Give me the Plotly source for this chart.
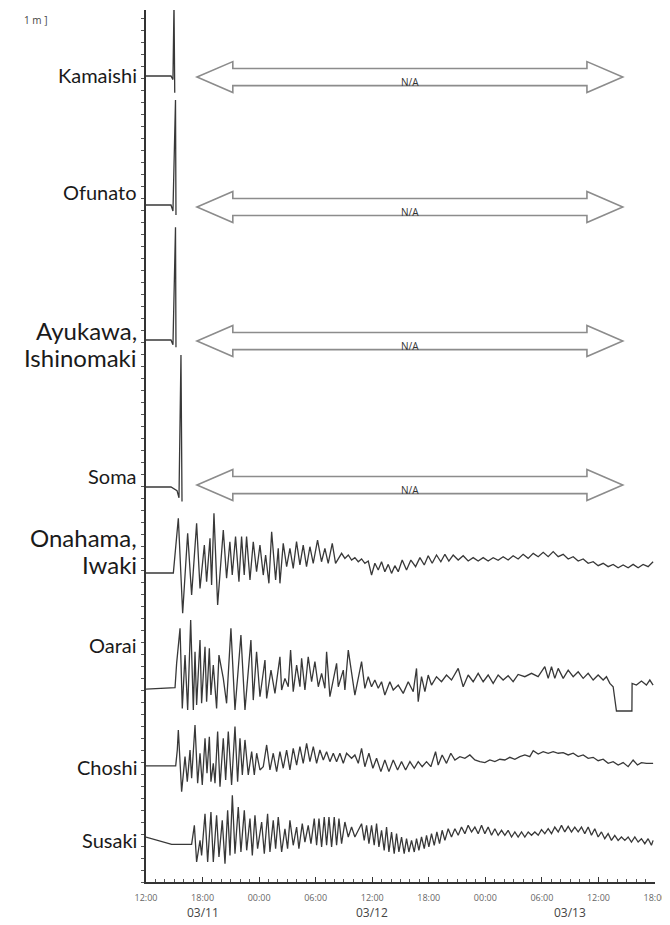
import plotly.graph_objects as go

# ---------------- data ----------------
# time in hours after 2011-03-11 12:00, sea level anomaly in metres
STATIONS = ["Kamaishi", "Ofunato", "Ayukawa, Ishinomaki", "Soma",
            "Onahama, Iwaki", "Oarai", "Choshi", "Susaki"]
OFFSET_M = [67.17, 56.42, 45.17, 32.92, 25.75, 16.08, 9.67, 3.75]
# station label lines: text, height (m), font size
LABEL_LINES = ["Kamaishi", "Ofunato", "Ayukawa,", "Ishinomaki", "Soma",
               "Onahama,", "Iwaki", "Oarai", "Choshi", "Susaki"]
LABEL_Y_M = [67.25, 57.5, 45.92, 43.75, 33.83, 28.67, 26.5, 19.75, 9.58, 3.5]
LABEL_SIZE = [20, 20, 24, 24, 20, 24, 24, 20, 20, 20]

KAMAISHI = [(0, 0), (2.65, 0), (2.86, -0.3), (2.97, 6.0), (3.05, -1.4)]
OFUNATO = [(0, 0), (2.65, 0), (2.86, -0.5), (3.13, 8.75), (3.18, -0.83)]
AYUKAWA = [(0, 0), (2.65, 0), (2.86, -0.4), (3.13, 9.4), (3.18, -0.6)]
SOMA = [(0, 0), (2.65, 0), (3.29, -0.3), (3.5, -0.9), (3.71, 11.0), (3.82, -1.2)]

ONAHAMA = [(0, 0), (2.9, 0), (3.43, 4.56), (3.89, -3.36), (4.42, 3.31), (4.84, -1.83),
           (5.37, 4.14), (5.73, -1.28), (6.19, 2.33), (6.43, -0.72), (6.79, 2.89), (6.96, -1.0),
           (7.21, 4.97), (7.6, -2.67), (8.2, 3.58), (8.55, -0.44), (8.9, 2.61), (9.15, -0.17),
           (9.5, 3.03), (9.86, -0.72), (10.14, 3.03), (10.42, -0.17), (10.67, 3.03), (11.03, -0.58),
           (11.38, 2.61), (11.73, 0.11), (12.09, 2.33), (12.44, -0.17), (12.69, 1.5), (13.04, -0.86),
           (13.33, 3.44), (13.75, -0.58), (14.03, 2.06), (14.21, -0.86), (14.56, 2.47), (14.92, 0.53),
           (15.27, 2.06), (15.62, 0.39), (15.97, 2.61), (16.33, 0.67), (16.68, 2.33), (17.03, 0.53),
           (17.39, 2.19), (17.74, 0.81), (18.2, 2.75), (18.62, 0.94), (18.98, 2.06), (19.33, 0.81),
           (19.76, 2.47), (20.11, 0.81), (20.75, 1.64), (21.1, 1.22), (21.46, 1.5), (21.81, 1.08),
           (22.16, 1.28), (22.52, 0.94), (22.87, 1.17), (23.22, 0.81), (23.58, 1.0), (23.93, -0.17),
           (24.28, 0.81), (24.64, 0.25), (24.99, 0.94), (25.34, 0.11), (25.7, 0.72), (26.05, -0.03),
           (26.4, 0.61), (26.76, 0.11), (27.18, 1.08), (27.64, 0.25), (28.1, 1.08), (28.6, 0.53),
           (29.06, 1.28), (29.52, 0.67), (29.94, 1.44), (30.36, 0.81), (30.82, 1.5), (31.28, 0.94),
           (31.71, 1.56), (32.13, 1.0), (32.59, 1.5), (33.12, 1.08), (33.65, 1.44), (34.18, 1.0),
           (34.71, 1.28), (35.24, 1.0), (35.77, 1.28), (36.3, 1.0), (36.83, 1.28), (37.36, 1.06),
           (37.89, 1.36), (38.42, 1.08), (38.95, 1.44), (39.48, 1.17), (40.01, 1.56), (40.54, 1.22),
           (41.08, 1.64), (41.61, 1.36), (42.14, 1.72), (42.67, 1.36), (43.2, 1.78), (43.73, 1.36),
           (44.26, 1.56), (44.79, 1.17), (45.32, 1.36), (45.85, 1.0), (46.38, 1.17), (46.91, 0.81),
           (47.44, 0.94), (47.97, 0.61), (48.5, 0.81), (49.03, 0.53), (49.56, 0.72), (50.09, 0.44),
           (50.62, 0.67), (51.15, 0.44), (51.68, 0.72), (52.21, 0.44), (52.74, 0.72), (53.27, 0.53),
           (53.8, 0.94)]

OARAI = [(0, 0), (3.08, 0.11), (3.25, 2.14), (3.61, 5.06), (3.85, -1.61), (4.14, 2.83), (4.42, -1.75),
         (4.74, 5.75), (5.02, -1.75), (5.2, 3.11), (5.37, -1.33), (5.73, 4.08), (5.9, -1.19),
         (6.26, 3.53), (6.43, -1.06), (6.72, 3.39), (6.89, -0.5), (7.14, 2.0), (7.49, -1.61),
         (7.74, 2.83), (8.2, 0.89), (8.55, -1.19), (9.01, 5.06), (9.44, -1.75), (10.07, 4.5),
         (10.5, -1.75), (11.13, 4.08), (11.38, -0.92), (11.73, 3.11), (12.09, -0.64), (12.62, 2.42),
         (12.8, -0.78), (13.26, 1.58), (13.68, -0.36), (14.21, 2.69), (14.39, -0.08), (14.74, 0.89),
         (15.09, 0.19), (15.34, 3.25), (15.62, -0.22), (15.98, 2.0), (16.33, 0.19), (16.51, 2.56),
         (16.86, -0.08), (17.21, 2.69), (17.57, 0.61), (17.92, 2.28), (18.28, 0.19), (18.63, 1.31),
         (18.98, 0.06), (19.16, 3.11), (19.51, -0.64), (20.22, 2.14), (20.4, 0.19), (20.93, 1.58),
         (21.1, -0.08), (21.46, 3.25), (22.16, -0.5), (22.87, 2.28), (23.22, 0.06), (23.58, 1.03),
         (23.93, 0.19), (24.28, 0.75), (24.64, 0.06), (24.99, 0.61), (25.34, -0.5), (25.87, 0.61),
         (26.23, -0.08), (26.76, 0.33), (27.29, -0.36), (27.82, 0.61), (28.35, -0.22), (28.7, 1.72),
         (28.88, -1.06), (29.23, 1.03), (29.59, -0.22), (29.94, 1.17), (30.29, 0.33), (30.82, 1.03),
         (31.35, 0.61), (31.88, 1.17), (32.41, 0.75), (33.12, 1.72), (33.65, 0.19), (34.18, 1.17),
         (34.71, 0.61), (35.24, 1.31), (35.77, 0.61), (36.3, 1.17), (36.83, 0.47), (37.36, 1.17),
         (37.89, 0.75), (38.42, 1.11), (38.95, 0.61), (39.48, 1.22), (40.19, 1.03), (40.9, 1.31),
         (41.6, 1.03), (42.31, 1.86), (42.67, 0.89), (43.02, 1.86), (43.37, 0.89), (43.73, 1.72),
         (44.26, 0.89), (44.79, 1.58), (45.32, 1.03), (45.85, 1.44), (46.38, 0.89), (46.91, 1.31),
         (47.44, 0.75), (47.97, 1.17), (48.5, 0.75), (48.85, 1.03), (49.21, 0.47), (49.56, 0.19),
         (49.91, -1.83), (51.55, -1.83), (51.57, 0.47), (52.03, 0.33), (52.56, 0.67), (53.09, 0.33),
         (53.45, 0.75), (53.8, 0.33)]

CHOSHI = [(0, 0), (3.15, 0), (3.32, 1.33), (3.43, 3.0), (3.78, -2.14), (4.14, 0.78), (4.38, -1.31),
          (4.67, 1.33), (4.84, -1.03), (5.2, 3.42), (5.48, -1.44), (5.73, 1.06), (5.97, -1.58),
          (6.26, 2.31), (6.47, -0.61), (6.72, 2.44), (6.89, -1.31), (7.14, 0.22), (7.32, -1.44),
          (7.6, 2.86), (7.85, -1.72), (8.2, 2.31), (8.45, -1.17), (8.73, 2.86), (9.08, -1.58),
          (9.44, 3.28), (9.72, -1.31), (9.97, 2.31), (10.22, -0.75), (10.5, 2.17), (10.85, -0.75),
          (11.21, 1.19), (11.49, -0.75), (11.74, 1.06), (12.09, -0.33), (12.44, -0.06), (12.8, 1.75),
          (13.15, -0.33), (13.5, 1.06), (13.86, -0.47), (14.21, 1.19), (14.56, -0.19), (14.92, 1.33),
          (15.27, -0.33), (15.62, 1.47), (15.98, 0.08), (16.33, 1.61), (16.68, 0.22), (17.04, 1.89),
          (17.39, 0.36), (17.75, 1.61), (18.1, 0.22), (18.45, 1.33), (18.81, 0.5), (19.16, 1.19),
          (19.51, 0.36), (19.87, 1.06), (20.22, 0.36), (20.57, 1.06), (20.93, 0.22), (21.28, 1.06),
          (21.81, 0.64), (22.16, 0.92), (22.52, 0.22), (22.87, 1.47), (23.22, -0.06), (23.65, 1.06),
          (24.07, -0.19), (24.46, 0.64), (24.92, -0.47), (25.34, 0.5), (25.77, -0.47), (26.23, 0.5),
          (26.69, -0.33), (27.11, 0.36), (27.54, -0.33), (28.0, 0.36), (28.46, -0.19), (28.88, 0.36),
          (29.3, -0.06), (29.76, 0.36), (30.22, -0.06), (30.72, 1.19), (31.0, 0.08), (31.42, 0.92),
          (31.88, 0.22), (32.34, 1.06), (32.77, 0.5), (33.3, 0.78), (33.83, 0.64), (34.36, 0.92),
          (34.89, 0.5), (35.42, 0.36), (35.95, 0.28), (36.48, 0.5), (37.01, 0.36), (37.54, 0.56),
          (38.07, 0.5), (38.6, 0.72), (39.13, 0.56), (39.66, 0.78), (40.19, 0.92), (40.72, 0.78),
          (41.08, 1.28), (41.61, 1.0), (42.14, 1.19), (42.67, 1.06), (43.2, 1.19), (43.73, 1.06),
          (44.26, 1.11), (44.79, 0.92), (45.32, 1.06), (45.85, 0.78), (46.38, 0.92), (46.91, 0.64),
          (47.44, 0.72), (47.97, 0.44), (48.5, 0.56), (49.03, 0.22), (49.56, 0.36), (50.09, 0.08),
          (50.62, 0.28), (51.15, -0.06), (51.68, 0.5), (52.14, 0.08), (52.56, 0.28), (53.09, 0.22),
          (53.8, 0.22)]

SUSAKI = [(0, 0), (0.95, -0.22), (2.01, -0.47), (2.72, -0.61), (4.84, -0.61), (5.13, 0.97),
          (5.37, -2.08), (5.73, -0.28), (5.9, -1.53), (6.26, 1.94), (6.54, -2.08), (6.89, 2.08),
          (7.14, -2.08), (7.49, 1.81), (7.74, -1.67), (8.09, 1.39), (8.38, -2.22), (8.66, 2.22),
          (8.91, -1.53), (9.16, 3.47), (9.44, -1.39), (9.79, 2.5), (10.07, -1.25), (10.43, 2.22),
          (10.68, -1.11), (11.03, 1.53), (11.28, -1.53), (11.56, 1.81), (11.84, -0.97), (12.27, 1.25),
          (12.55, -1.39), (12.9, 1.94), (13.15, -1.25), (13.5, 1.39), (13.75, -0.97), (14.03, 1.67),
          (14.39, -1.25), (14.74, 0.69), (15.02, -0.97), (15.27, 1.39), (15.62, -0.69), (15.98, 0.83),
          (16.22, -0.97), (16.58, 1.11), (16.86, -0.42), (17.21, 0.97), (17.5, -0.56), (17.85, 1.53),
          (18.1, -0.69), (18.35, 1.53), (18.63, -0.83), (18.91, 1.67), (19.16, -0.69), (19.41, 1.67),
          (19.69, -0.83), (19.97, 1.67), (20.22, -0.69), (20.47, 1.53), (20.75, -0.56), (21.1, 1.25),
          (21.46, 0), (21.81, 0.83), (22.16, 0), (22.52, 0.56), (22.87, 1.11), (23.15, -0.28),
          (23.4, 0.97), (23.65, -0.56), (23.93, 0.97), (24.21, -0.69), (24.46, 1.11), (24.71, -0.83),
          (24.99, 0.56), (25.27, -1.11), (25.52, 0.83), (25.77, -1.25), (26.05, 0.42), (26.33, -1.39),
          (26.58, 0.28), (26.83, -1.25), (27.11, 0), (27.39, -1.39), (27.64, -0.14), (27.89, -1.25),
          (28.17, -0.28), (28.46, -1.25), (28.7, -0.14), (28.95, -1.11), (29.23, 0), (29.52, -0.97),
          (29.76, 0.14), (30.01, -0.83), (30.29, 0.28), (30.58, -0.69), (30.86, 0.42), (31.14, -0.56),
          (31.42, 0.56), (31.71, -0.28), (32.06, 0.69), (32.41, 0), (32.77, 0.69), (33.12, 0.14),
          (33.47, 0.83), (33.83, 0.28), (34.18, 0.97), (34.54, 0.42), (34.89, 0.83), (35.24, 0.28),
          (35.6, 0.97), (35.95, 0.28), (36.3, 0.83), (36.66, 0.14), (37.01, 0.69), (37.36, 0.14),
          (37.72, 0.56), (38.07, 0.14), (38.42, 0.56), (38.78, 0), (39.13, 0.42), (39.48, 0),
          (39.84, 0.42), (40.19, 0), (40.55, 0.42), (40.9, 0.14), (41.25, 0.42), (41.61, 0.14),
          (41.96, 0.61), (42.31, 0.28), (42.67, 0.69), (43.02, 0.28), (43.37, 0.83), (43.73, 0.42),
          (44.08, 0.97), (44.43, 0.42), (44.79, 0.89), (45.14, 0.42), (45.49, 0.83), (45.85, 0.42),
          (46.2, 0.83), (46.55, 0.28), (46.91, 0.83), (47.26, 0.14), (47.61, 0.69), (47.97, 0),
          (48.32, 0.42), (48.67, -0.14), (49.03, 0.28), (49.38, -0.28), (49.73, 0.14), (50.09, -0.28),
          (50.44, 0), (50.8, -0.28), (51.15, 0), (51.5, -0.42), (51.86, 0), (52.21, -0.42),
          (52.56, -0.14), (52.92, -0.56), (53.27, -0.14), (53.62, -0.69), (53.8, -0.28)]

SERIES = [KAMAISHI, OFUNATO, AYUKAWA, SOMA, ONAHAMA, OARAI, CHOSHI, SUSAKI]

# "N/A" arrows for the four northern stations (record lost)
NA_START_H = 5.41
NA_END_H = 50.58
NA_CENTER_M = [67.08, 56.25, 45.08, 33.08]
NA_HEAD_H = 3.8
NA_SHAFT_HALF_M = 0.71
NA_HEAD_HALF_M = 1.29

TICK_HOURS = [0, 6, 12, 18, 24, 30, 36, 42, 48, 54]
TICK_TEXT = ["12:00", "18:00", "00:00", "06:00", "12:00", "18:00", "00:00", "06:00", "12:00", "18:00"]
DATE_TEXT = ["03/11", "03/12", "03/13"]
DATE_HOURS = [6, 24, 45]

Y_TOP_M = 72.67
X_END_H = 54

# ---------------- figure ----------------
fig = go.Figure()
LINE_COLOR = "#383838"
for name, off, pts in zip(STATIONS, OFFSET_M, SERIES):
    fig.add_trace(go.Scatter(
        x=[p[0] for p in pts], y=[off + p[1] for p in pts],
        mode="lines", line=dict(color=LINE_COLOR, width=1.3),
        name=name, showlegend=False, hoverinfo="skip"))

shapes = []
for yc in NA_CENTER_M:
    x0, x1, hl = NA_START_H, NA_END_H, NA_HEAD_H
    h1, h2 = NA_SHAFT_HALF_M, NA_HEAD_HALF_M
    pts = [(x0, yc), (x0 + hl, yc + h2), (x0 + hl, yc + h1), (x1 - hl, yc + h1),
           (x1 - hl, yc + h2), (x1, yc), (x1 - hl, yc - h2), (x1 - hl, yc - h1),
           (x0 + hl, yc - h1), (x0 + hl, yc - h2)]
    path = "M " + " L ".join(f"{a},{b}" for a, b in pts) + " Z"
    shapes.append(dict(type="path", path=path, xref="x", yref="y",
                       line=dict(color="#8c8c8c", width=1.6), fillcolor="white", layer="above"))

annotations = []
for yc in NA_CENTER_M:
    annotations.append(dict(x=(NA_START_H + NA_END_H) / 2, y=yc, xref="x", yref="y",
                            text="N/A", showarrow=False, yshift=-5,
                            font=dict(family="Open Sans", size=10, color="#333")))
for txt, ly, sz in zip(LABEL_LINES, LABEL_Y_M, LABEL_SIZE):
    annotations.append(dict(x=0, y=ly, xref="paper", yref="y", text=txt, showarrow=False,
                            xanchor="right", yanchor="middle", xshift=-7,
                            font=dict(family="Lato", size=sz, color="#1a1a1a")))
for txt, h in zip(DATE_TEXT, DATE_HOURS):
    annotations.append(dict(x=h, y=0, xref="x", yref="paper", text=txt, showarrow=False,
                            yshift=-41, font=dict(family="Open Sans", size=12, color="#444")))
annotations.append(dict(x=0, y=1, xref="paper", yref="paper", text="1 m ]", showarrow=False,
                        xanchor="left", yanchor="middle", xshift=-124, yshift=-10,
                        font=dict(family="Open Sans", size=10, color="#444")))

# the page body has an 8 px margin; the figure is sized so the plot lands where it should
fig.update_layout(
    width=662, height=917,
    margin=dict(l=138, r=15, t=2, b=43),
    paper_bgcolor="white", plot_bgcolor="white",
    shapes=shapes, annotations=annotations,
    xaxis=dict(range=[0, X_END_H], showgrid=False, zeroline=False,
               showline=True, linecolor="#333", linewidth=2,
               tickmode="array", tickvals=TICK_HOURS, ticktext=TICK_TEXT,
               ticks="inside", ticklen=5, tickcolor="#333",
               ticklabelstandoff=6,
               minor=dict(dtick=1, ticks="inside", ticklen=3, tickcolor="#555"),
               tickfont=dict(family="Open Sans", size=9, color="#666")),
    yaxis=dict(range=[0, Y_TOP_M], showgrid=False, zeroline=False,
               showline=True, linecolor="#333", linewidth=2,
               ticks="outside", ticklen=3, tickcolor="#555", dtick=1,
               showticklabels=False),
)

fig.write_html("out.html")
